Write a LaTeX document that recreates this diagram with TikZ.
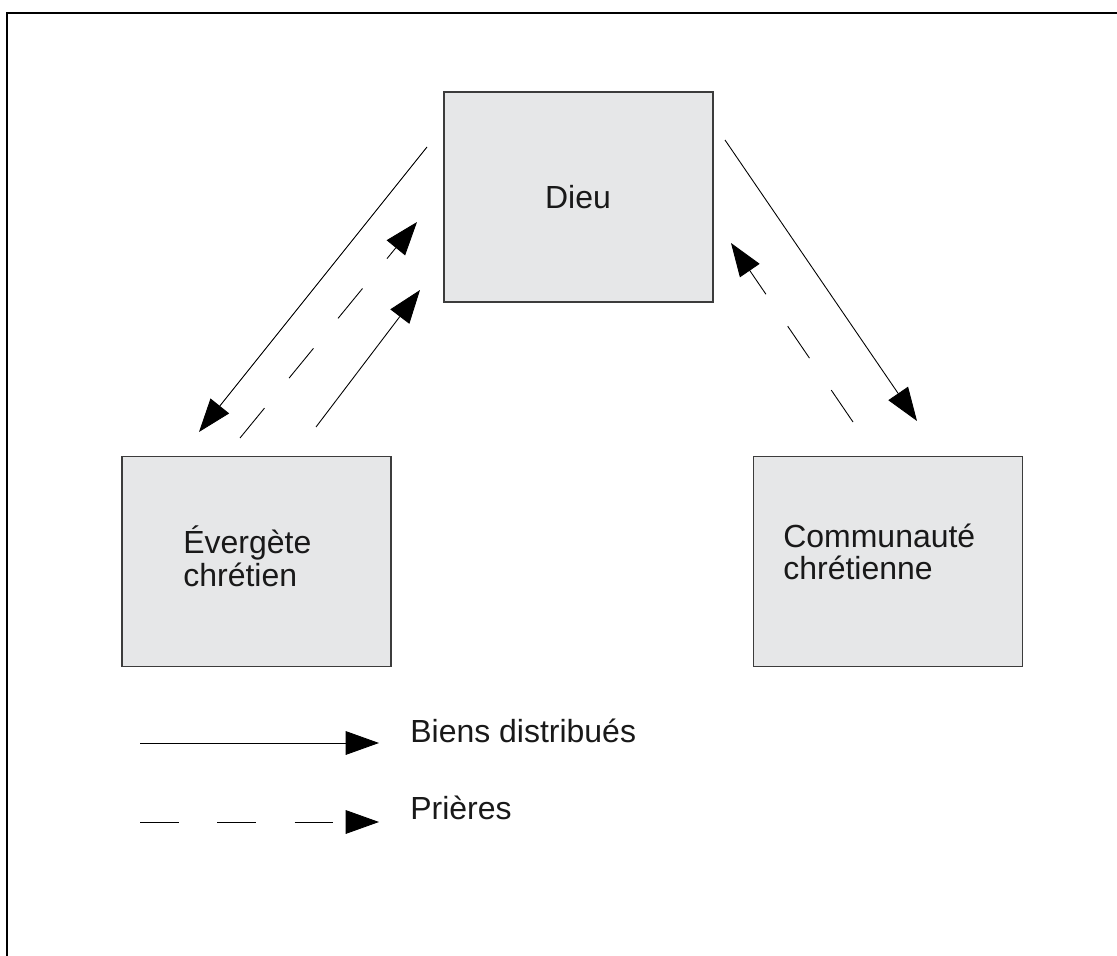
\documentclass[tikz,border=0pt]{standalone}
\usepackage{fontspec}
\setmainfont{Liberation Sans}
\usetikzlibrary{arrows.meta}
\definecolor{boxfill}{HTML}{E6E7E8}
\definecolor{boxline}{HTML}{3C3C3C}
\tikzset{
	boite/.style={draw=boxline, fill=boxfill, line width=1pt, minimum width=5.38cm, minimum height=4.2cm, inner sep=0pt},
	texte/.style={font=\fontsize{18.2pt}{18.7pt}\selectfont, inner sep=0pt, align=left, text=black!90},
	fleche/.style={line width=0.5pt, -{Triangle[length=19pt,width=13.5pt]}},
	priere/.style={fleche, dash pattern=on 22pt off 22pt}
}
\begin{document}
\begin{tikzpicture}[x=0.02cm, y=-0.02cm]
				\useasboundingbox (0,0) rectangle (1117,956);
				\draw[line width=0.6pt] (7,960) -- (7,13) -- (1120,13);
				
				\node[boite] (dieu) at (578.5,197) {};
				\node[boite] (ev) at (256.5,561.5) {};
				\node[boite] (com) at (888,561.5) {};
				
				\node[texte, anchor=base] (dieutxt) at (578,209) {Dieu};
				\node[texte, anchor=base west] (evtxt) at (183,586) {Évergète\\chrétien};
				\node[texte, anchor=base west] (comtxt) at (783,580) {Communauté\\chrétienne};
				
				\coordinate (a1) at (427,147);
				\coordinate (a2) at (199,432);
				\coordinate (b1) at (240,438);
				\coordinate (b2) at (417,222);
				\coordinate (c1) at (316,427);
				\coordinate (c2) at (420,290);
				\coordinate (d1) at (725,140);
				\coordinate (d2) at (917,421);
				\coordinate (e1) at (853,422);
				\coordinate (e2) at (731,243);
				
				\draw[fleche] (a1) -- (a2);
				\draw[priere] (b1) -- (b2);
				\draw[fleche] (c1) -- (c2);
				\draw[fleche] (d1) -- (d2);
				\draw[priere] (e1) -- (e2);
				
				\coordinate (l1) at (140,743);
				\coordinate (l2) at (379,743);
				\coordinate (m1) at (140,822);
				\coordinate (m2) at (379,822);
				\draw[fleche] (l1) -- (l2);
				\draw[priere] (m1) -- (m2);
				\node[texte, anchor=base west] (biens) at (410,742) {Biens distribués};
				\node[texte, anchor=base west] (prieres) at (410,819) {Prières};
			\end{tikzpicture}
\end{document}
